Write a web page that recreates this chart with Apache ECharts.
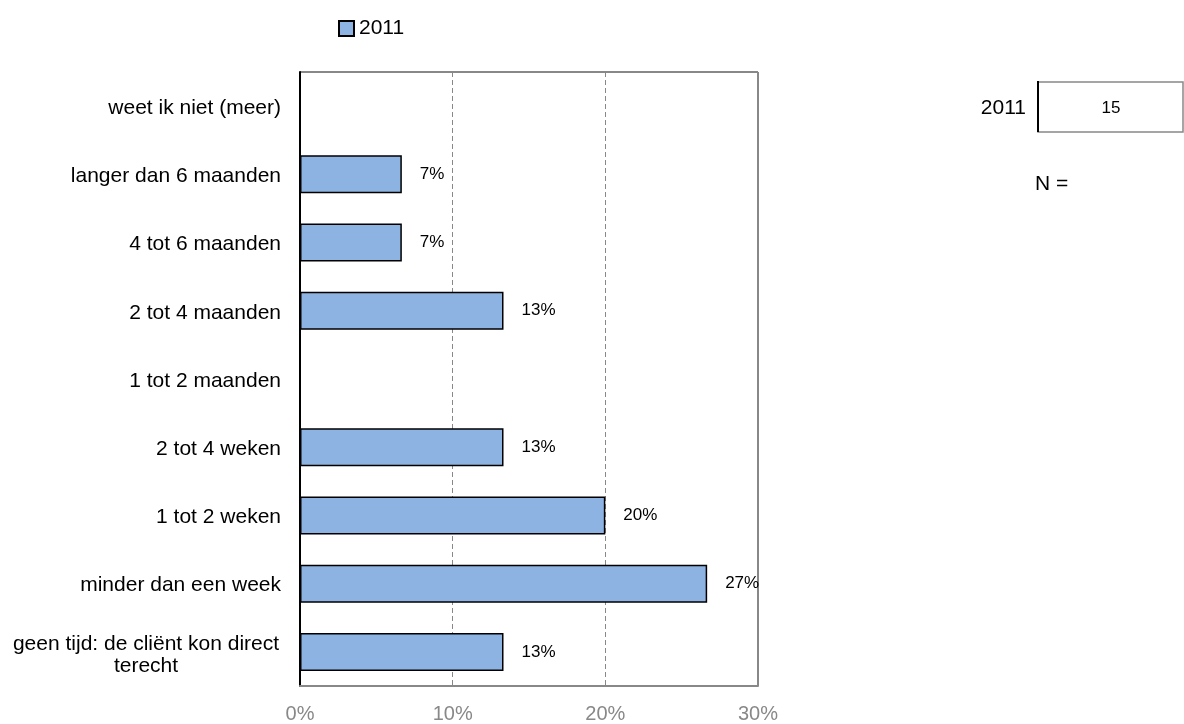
<!DOCTYPE html>
<html>
<head>
<meta charset="utf-8">
<style>
  html, body { margin: 0; padding: 0; background: #fff; }
  #chart { width: 1184px; height: 724px; }
</style>
<script src="https://cdn.jsdelivr.net/npm/echarts@6/dist/echarts.min.js"></script>
</head>
<body>
<div id="chart"></div>
<script>
// categories from bottom to top
const categories = [
  "geen tijd: de cliënt kon direct\nterecht",
  "minder dan een week",
  "1 tot 2 weken",
  "2 tot 4 weken",
  "1 tot 2 maanden",
  "2 tot 4 maanden",
  "4 tot 6 maanden",
  "langer dan 6 maanden",
  "weet ik niet (meer)"
];
const seriesName = "2011";
const values2011 = [13.33, 26.67, 20, 13.33, 0, 13.33, 6.67, 6.67, 0];
const nYear = "2011";
const nValue = 15;

const chart = echarts.init(document.getElementById("chart"));
const font = "Liberation Sans, Arial, sans-serif";

const option = {
  animation: false,
  textStyle: { fontFamily: font },
  legend: {
    top: 13,
    left: 333,
    itemWidth: 15,
    itemHeight: 15,
    itemGap: 5,
    textStyle: { fontSize: 21, color: "#000", fontFamily: font },
    data: [{ name: seriesName, icon: "rect" }]
  },
  grid: { left: 300, right: 426, top: 72, bottom: 38, containLabel: false },
  xAxis: {
    type: "value",
    min: 0,
    max: 30,
    interval: 10,
    axisLine: { show: true, lineStyle: { color: "#888", width: 2 } },
    axisTick: { show: false },
    axisLabel: {
      formatter: "{value}%",
      color: "#888",
      fontSize: 20,
      margin: 18,
      fontFamily: font
    },
    splitLine: { show: true, lineStyle: { color: "#888", type: [5, 3], width: 1 } }
  },
  yAxis: {
    type: "category",
    data: categories,
    axisLine: { show: true, lineStyle: { color: "#000", width: 2 } },
    axisTick: { show: false },
    axisLabel: {
      color: "#000",
      fontSize: 21,
      margin: 19,
      lineHeight: 23,
      padding: [4, 0, 0, 0],
      fontFamily: font,
      align: "right",
      formatter: v => v.indexOf("\n") >= 0
        ? v.split("\n").map(s => "{w|" + s + "}").join("\n")
        : v,
      rich: {
        w: { width: 270, align: "center", fontSize: 21, lineHeight: 22, color: "#000", padding: [3, 0, 0, 0], fontFamily: font }
      }
    }
  },
  series: [{
    name: seriesName,
    type: "bar",
    data: values2011,
    barWidth: 38,
    itemStyle: { color: "#8db3e2", borderColor: "#000", borderWidth: 1.5 },
    label: {
      show: true,
      position: "right",
      distance: 18,
      color: "#000",
      fontSize: 17,
      fontFamily: font,
      formatter: p => p.value > 0 ? Math.round(p.value) + "%" : ""
    }
  }],
  graphic: [
    // top border and right border of plot area
    { type: "line", shape: { x1: 300, y1: 72, x2: 758, y2: 72 }, style: { stroke: "#888", lineWidth: 2 } },
    { type: "line", shape: { x1: 758, y1: 72, x2: 758, y2: 686 }, style: { stroke: "#888", lineWidth: 2 } },
    // N box
    { type: "rect", shape: { x: 1038, y: 82, width: 145, height: 50 }, style: { fill: "#fff", stroke: "#888", lineWidth: 1.5 } },
    { type: "line", shape: { x1: 1038, y1: 81, x2: 1038, y2: 132 }, style: { stroke: "#000", lineWidth: 2 } },
    { type: "text", x: 1111, y: 108, style: { text: String(nValue), font: "17px " + font, fill: "#000", align: "center", verticalAlign: "middle" } },
    { type: "text", x: 1026, y: 108, style: { text: nYear, font: "21px " + font, fill: "#000", align: "right", verticalAlign: "middle" } },
    { type: "text", x: 1035, y: 184, style: { text: "N =", font: "21px " + font, fill: "#000", align: "left", verticalAlign: "middle" } }
  ]
};
chart.setOption(option);
</script>
</body>
</html>
